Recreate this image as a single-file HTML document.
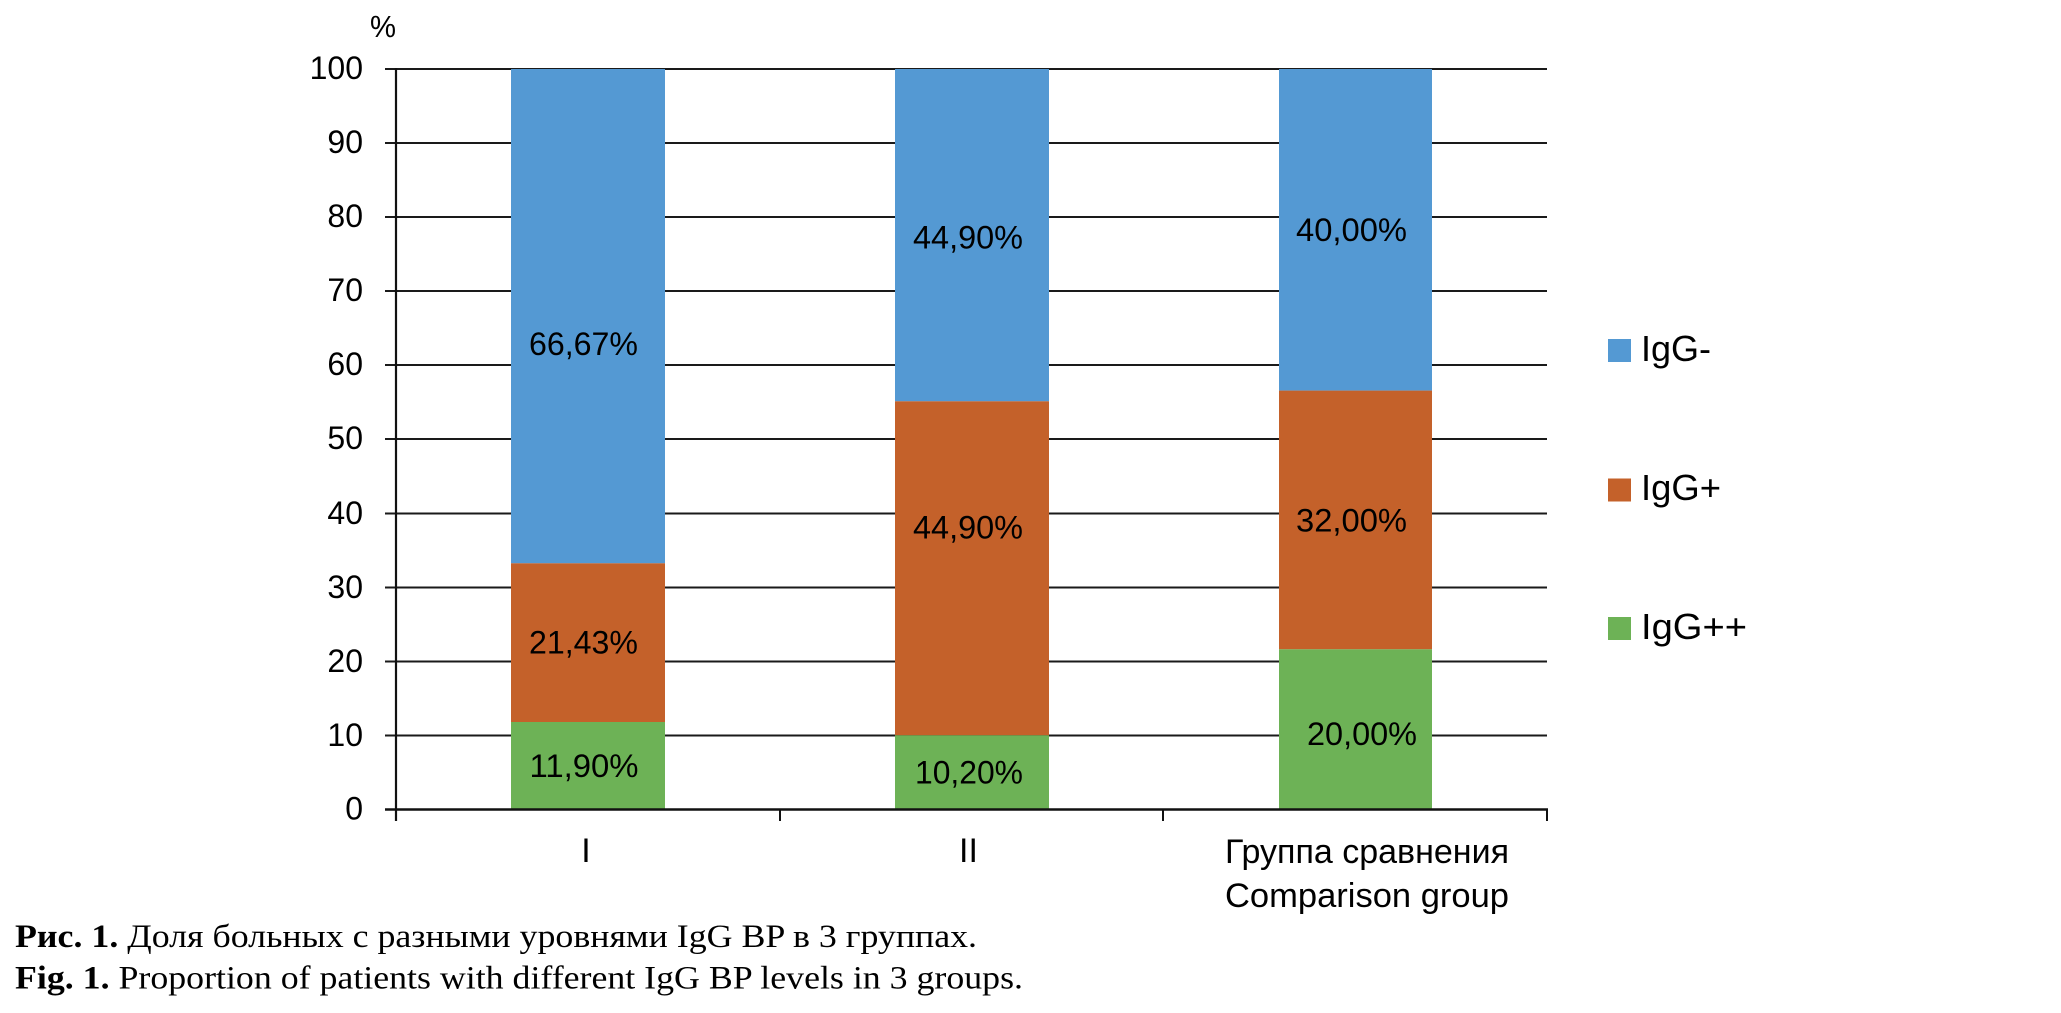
<!DOCTYPE html>
<html>
<head>
<meta charset="utf-8">
<style>
html,body{margin:0;padding:0;background:#fff;}
svg{display:block;}
</style>
</head>
<body>
<svg width="2061" height="1013" viewBox="0 0 2061 1013" xmlns="http://www.w3.org/2000/svg">
<rect x="0" y="0" width="2061" height="1013" fill="#fff"/>
<!-- gridlines -->
<g stroke="#1a1a1a" stroke-width="2">
<line x1="385" y1="69" x2="1547" y2="69"/>
<line x1="385" y1="143" x2="1547" y2="143"/>
<line x1="385" y1="217" x2="1547" y2="217"/>
<line x1="385" y1="291" x2="1547" y2="291"/>
<line x1="385" y1="365" x2="1547" y2="365"/>
<line x1="385" y1="439" x2="1547" y2="439"/>
<line x1="385" y1="513.5" x2="1547" y2="513.5"/>
<line x1="385" y1="587.5" x2="1547" y2="587.5"/>
<line x1="385" y1="661.5" x2="1547" y2="661.5"/>
<line x1="385" y1="735.5" x2="1547" y2="735.5"/>
</g>
<!-- bars -->
<rect x="511" y="69" width="154" height="494.3" fill="#5499D3"/>
<rect x="511" y="563.3" width="154" height="158.7" fill="#C4612A"/>
<rect x="511" y="722" width="154" height="87.5" fill="#6DB256"/>

<rect x="895" y="69" width="154" height="332.3" fill="#5499D3"/>
<rect x="895" y="401.3" width="154" height="334" fill="#C4612A"/>
<rect x="895" y="735.3" width="154" height="74.2" fill="#6DB256"/>

<rect x="1279" y="69" width="153" height="321.6" fill="#5499D3"/>
<rect x="1279" y="390.6" width="153" height="258.7" fill="#C4612A"/>
<rect x="1279" y="649.3" width="153" height="160.2" fill="#6DB256"/>

<!-- axes -->
<line x1="396" y1="68" x2="396" y2="821" stroke="#111" stroke-width="2.2"/>
<line x1="385" y1="809.5" x2="1548" y2="809.5" stroke="#111" stroke-width="2.6"/>
<g stroke="#111" stroke-width="2">
<line x1="780" y1="809" x2="780" y2="821"/>
<line x1="1163" y1="809" x2="1163" y2="821"/>
<line x1="1547" y1="809" x2="1547" y2="821"/>
</g>

<!-- y tick labels -->
<g font-family="Liberation Sans, sans-serif" font-size="32" fill="#000" text-anchor="end">
<text x="363" y="79">100</text>
<text x="363" y="153">90</text>
<text x="363" y="227">80</text>
<text x="363" y="301">70</text>
<text x="363" y="375">60</text>
<text x="363" y="449">50</text>
<text x="363" y="524">40</text>
<text x="363" y="598">30</text>
<text x="363" y="672">20</text>
<text x="363" y="746">10</text>
<text x="363" y="819.5">0</text>
</g>
<text x="370" y="37" font-family="Liberation Sans, sans-serif" font-size="31" textLength="26" lengthAdjust="spacingAndGlyphs">%</text>

<!-- data labels -->
<g font-family="Liberation Sans, sans-serif" font-size="32" fill="#000">
<text x="529" y="355" textLength="109" lengthAdjust="spacingAndGlyphs">66,67%</text>
<text x="529" y="653.5" textLength="109" lengthAdjust="spacingAndGlyphs">21,43%</text>
<text x="529.5" y="777" textLength="109" lengthAdjust="spacingAndGlyphs">11,90%</text>

<text x="913" y="248.5" textLength="110" lengthAdjust="spacingAndGlyphs">44,90%</text>
<text x="913" y="538.5" textLength="110" lengthAdjust="spacingAndGlyphs">44,90%</text>
<text x="915" y="783.5" textLength="108" lengthAdjust="spacingAndGlyphs">10,20%</text>

<text x="1296" y="241" textLength="111" lengthAdjust="spacingAndGlyphs">40,00%</text>
<text x="1296" y="531.5" textLength="111" lengthAdjust="spacingAndGlyphs">32,00%</text>
<text x="1307" y="745" textLength="110" lengthAdjust="spacingAndGlyphs">20,00%</text>
</g>

<!-- category labels -->
<g font-family="Liberation Sans, sans-serif" font-size="34" fill="#000">
<text x="586" y="862" text-anchor="middle">I</text>
<text x="968.5" y="862" text-anchor="middle">II</text>
<text x="1225" y="863" textLength="284" lengthAdjust="spacingAndGlyphs">Группа сравнения</text>
<text x="1225" y="907" textLength="284" lengthAdjust="spacingAndGlyphs">Comparison group</text>
</g>

<!-- legend -->
<rect x="1608" y="339" width="23" height="23" fill="#5499D3"/>
<rect x="1608" y="478.5" width="23" height="23" fill="#C4612A"/>
<rect x="1608" y="617" width="23" height="23" fill="#6DB256"/>
<g font-family="Liberation Sans, sans-serif" font-size="36" fill="#000">
<text x="1641" y="361" textLength="70" lengthAdjust="spacingAndGlyphs">IgG-</text>
<text x="1641" y="500" textLength="80" lengthAdjust="spacingAndGlyphs">IgG+</text>
<text x="1641" y="639" textLength="106" lengthAdjust="spacingAndGlyphs">IgG++</text>
</g>

<!-- caption -->
<g font-family="Liberation Serif, serif" font-size="33" fill="#000">
<text x="15" y="947" textLength="962" lengthAdjust="spacingAndGlyphs"><tspan font-weight="bold">Рис. 1.</tspan> Доля больных с разными уровнями IgG BP в 3 группах.</text>
<text x="15" y="988.5" textLength="1008" lengthAdjust="spacingAndGlyphs"><tspan font-weight="bold">Fig. 1.</tspan> Proportion of patients with different IgG BP levels in 3 groups.</text>
</g>
</svg>
</body>
</html>
